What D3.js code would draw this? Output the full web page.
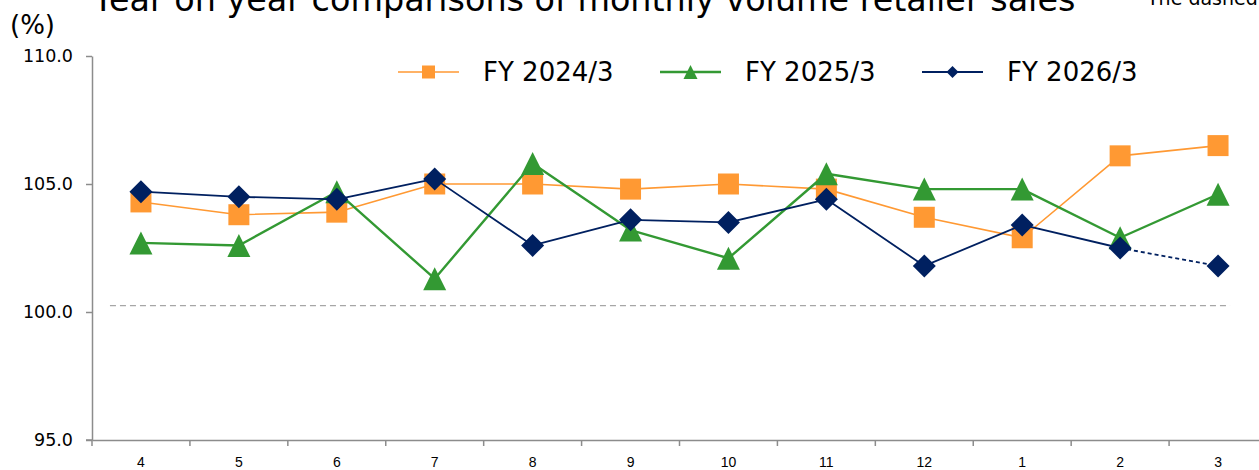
<!DOCTYPE html>
<html>
<head>
<meta charset="utf-8">
<script src="https://cdn.jsdelivr.net/npm/d3@7"></script>
<style>
  html, body { margin: 0; padding: 0; background: #fff; }
  svg { display: block; font-family: "DejaVu Sans", Verdana, sans-serif; }
</style>
</head>
<body>
<svg id="chart" width="1259" height="470"></svg>
<script>
// Fiscal-year months (April to March)
const months = ["4", "5", "6", "7", "8", "9", "10", "11", "12", "1", "2", "3"];

// Year-on-year ratio of monthly volume retailer sales (%)
const fy2024 = [104.3, 103.8, 103.9, 105.0, 105.0, 104.8, 105.0, 104.8, 103.7, 102.9, 106.1, 106.5];
const fy2025 = [102.7, 102.6, 104.7, 101.3, 105.8, 103.2, 102.1, 105.4, 104.8, 104.8, 102.9, 104.6];
const fy2026 = [104.7, 104.5, 104.4, 105.2, 102.6, 103.6, 103.5, 104.4, 101.8, 103.4, 102.5, 101.8];

// Months of the latest year that are still provisional (drawn with a dashed segment)
const provisionalMonths = ["3"];

// Reference level drawn as a grey dashed line
const referenceLevel = [100.25];

const yTicks = [95, 100, 105, 110];
const seriesNames = ["FY 2024/3", "FY 2025/3", "FY 2026/3"];

const svg = d3.select("#chart");

const x = d3.scaleBand().domain(months).range([92, 1267]).padding(0);
const y = d3.scaleLinear().domain([95, 110]).range([440, 56]);
const cx = m => x(m) + x.bandwidth() / 2;

// Marker shapes, centred on their bounding box
const shapes = {
  square: s => `M${-s/2},${-s/2}h${s}v${s}h${-s}Z`,
  triangle: s => `M0,${-s/2}L${s/2},${s/2}L${-s/2},${s/2}Z`,
  diamond: s => `M0,${-s/2}L${s/2},0L0,${s/2}L${-s/2},0Z`
};

const series = [
  { name: seriesNames[0], values: fy2024, color: "#FF9933", width: 1.6, shape: "square",   size: 21, legendSize: 13 },
  { name: seriesNames[1], values: fy2025, color: "#339933", width: 2.4, shape: "triangle", size: 23, legendSize: 14 },
  { name: seriesNames[2], values: fy2026, color: "#002060", width: 1.8, shape: "diamond",  size: 23, legendSize: 12, provisional: provisionalMonths }
];

// Title and notes
svg.append("text")
  .attr("x", 93).attr("y", 11)
  .attr("font-size", 33.4).attr("fill", "#000")
  .text("Year on year comparisons of monthly volume retailer sales");

svg.append("text")
  .attr("x", 1147).attr("y", 5)
  .attr("font-size", 19).attr("fill", "#000")
  .text("The dashed line shows preliminary figures");

svg.append("text")
  .attr("x", 10).attr("y", 34)
  .attr("font-size", 26).attr("fill", "#000")
  .text("(%)");

// Y axis
const yAxis = svg.append("g")
  .attr("transform", "translate(92,0)")
  .call(d3.axisLeft(y).tickValues(yTicks).tickFormat(d3.format(".1f")).tickSize(6).tickSizeOuter(0).tickPadding(13));
yAxis.select(".domain").attr("stroke", "#8c8c8c").attr("stroke-width", 1.5);
yAxis.selectAll(".tick line").attr("stroke", "#8c8c8c").attr("stroke-width", 1.5);
yAxis.selectAll(".tick text")
  .attr("font-family", "DejaVu Sans, Verdana, sans-serif")
  .attr("font-size", 17.5).attr("fill", "#000");

// X axis: labels centred in each band, ticks on band boundaries
const xAxis = svg.append("g")
  .attr("transform", "translate(0,440)")
  .call(d3.axisBottom(x).tickSize(0).tickSizeOuter(0).tickPadding(17));
xAxis.select(".domain").attr("stroke", "#8c8c8c").attr("stroke-width", 1.5);
xAxis.selectAll(".tick text")
  .attr("font-family", "Liberation Sans, Arial, sans-serif")
  .attr("font-size", 14).attr("fill", "#000");
svg.append("line")
  .attr("x1", 86).attr("x2", 92).attr("y1", 440).attr("y2", 440)
  .attr("stroke", "#8c8c8c").attr("stroke-width", 1.5);
xAxis.selectAll(".boundary")
  .data(months.map(m => x(m)))
  .join("line")
  .attr("class", "boundary")
  .attr("x1", d => d).attr("x2", d => d)
  .attr("y1", 0).attr("y2", 6)
  .attr("stroke", "#8c8c8c").attr("stroke-width", 1.5);

// Reference dashed line
svg.selectAll(".ref")
  .data(referenceLevel)
  .join("line")
  .attr("class", "ref")
  .attr("x1", cx(months[0]) - 31).attr("x2", cx(months[months.length - 1]) + 12)
  .attr("y1", d => y(d)).attr("y2", d => y(d))
  .attr("stroke", "#a6a6a6").attr("stroke-width", 1.3)
  .attr("stroke-dasharray", "6,4");

// Series lines and markers
const line = d3.line().x(d => cx(d.m)).y(d => y(d.v));

series.forEach(s => {
  const pts = months.map((m, i) => ({ m, v: s.values[i] }));
  const prov = s.provisional || [];
  const firstProv = pts.findIndex(p => prov.includes(p.m));
  const solid = firstProv === -1 ? pts : pts.slice(0, firstProv);
  const dashed = firstProv === -1 ? [] : pts.slice(firstProv - 1);

  const g = svg.append("g");
  g.append("path")
    .attr("d", line(solid))
    .attr("fill", "none").attr("stroke", s.color).attr("stroke-width", s.width)
    .attr("stroke-linejoin", "round");
  if (dashed.length > 1) {
    g.append("path")
      .attr("d", line(dashed))
      .attr("fill", "none").attr("stroke", s.color).attr("stroke-width", s.width)
      .attr("stroke-dasharray", "4,3");
  }
  g.selectAll(".mk")
    .data(pts)
    .join("path")
    .attr("class", "mk")
    .attr("transform", d => `translate(${cx(d.m)},${y(d.v)})`)
    .attr("d", shapes[s.shape](s.size))
    .attr("fill", s.color);
});

// Legend
const legendX = [398, 660, 922];
const legend = svg.append("g").attr("transform", "translate(0,72)");
series.forEach((s, i) => {
  const lg = legend.append("g").attr("transform", `translate(${legendX[i]},0)`);
  lg.append("line")
    .attr("x1", 0).attr("x2", 61).attr("y1", 0).attr("y2", 0)
    .attr("stroke", s.color).attr("stroke-width", s.width);
  lg.append("path")
    .attr("transform", "translate(30.5,0)")
    .attr("d", shapes[s.shape](s.legendSize))
    .attr("fill", s.color);
  lg.append("text")
    .attr("x", 85).attr("y", 0).attr("dy", "0.36em")
    .attr("font-size", 26).attr("fill", "#000")
    .text(s.name);
});
</script>
</body>
</html>
